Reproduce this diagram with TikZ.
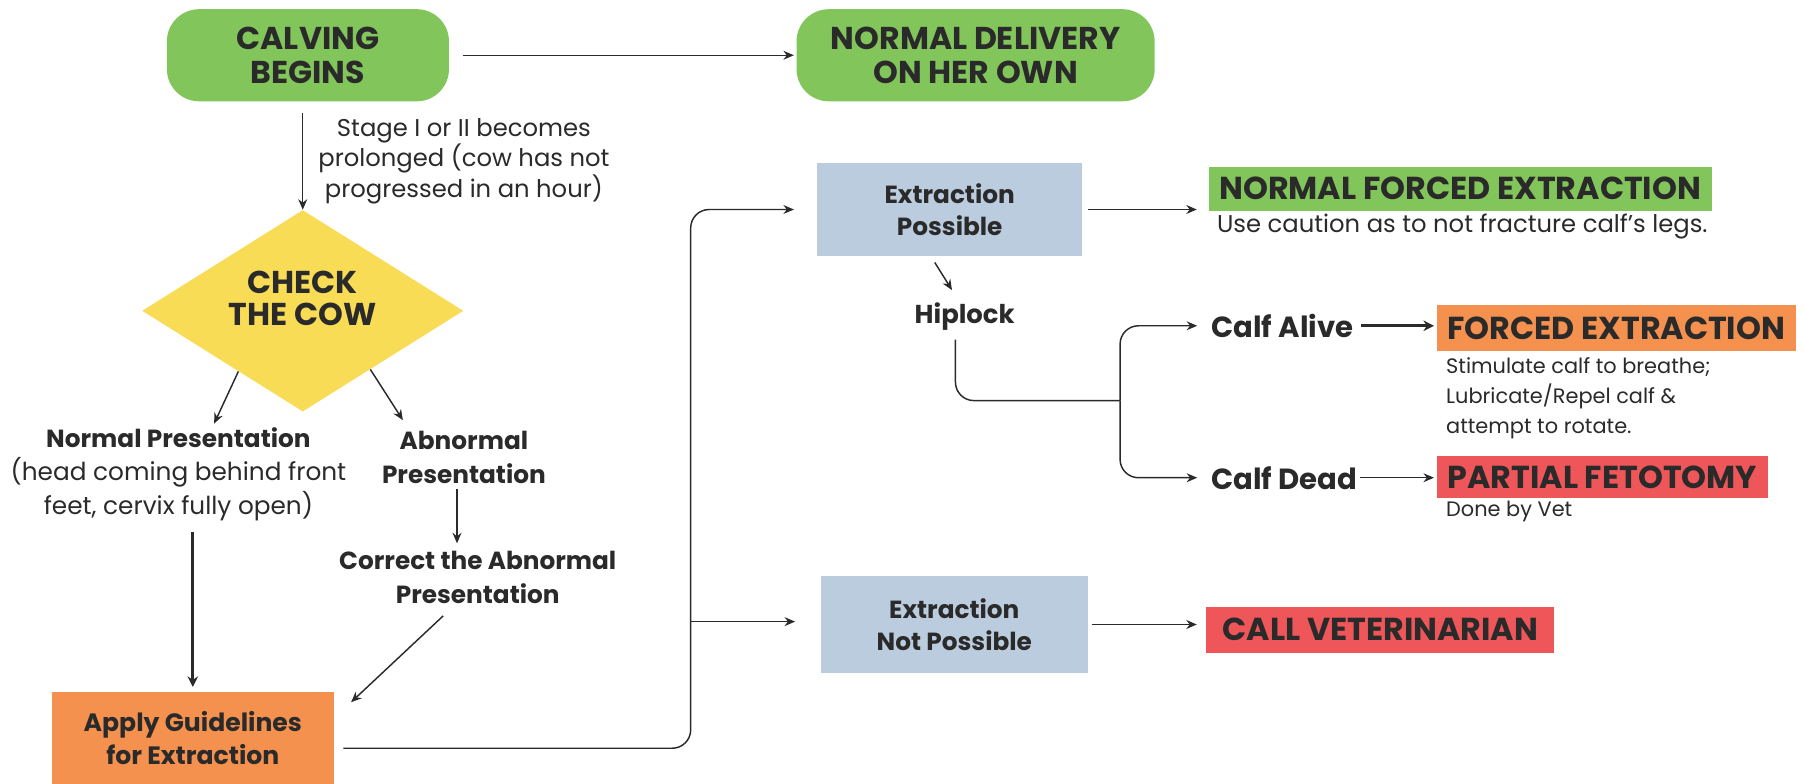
\documentclass[tikz,border=0pt]{standalone}
\usepackage{fontspec}
\setmainfont{Poppins}
\usetikzlibrary{shapes.geometric,arrows.meta,calc}
\definecolor{cgreen}{HTML}{82C55A}
\definecolor{corange}{HTML}{F4914F}
\definecolor{cred}{HTML}{EE5659}
\definecolor{cyellow}{HTML}{F9DC55}
\definecolor{cblue}{HTML}{BBCCDF}
\definecolor{ctext}{HTML}{2A2A2A}
\newcommand\fsz[2]{\fontsize{#1}{#2}\selectfont}
\begin{document}
\begin{tikzpicture}[x=0.025cm,y=-0.025cm,
  every node/.style={text=ctext},
  pill/.style={fill=cgreen, rounded corners=0.7cm, inner sep=0pt, align=center, font=\fsz{19.5}{21.3}\bfseries},
  head/.style={align=center, font=\fsz{19.5}{20}\bfseries},
  desc/.style={font=\fsz{15}{18}},
  lbl/.style={align=center, font=\fsz{15.3}{21}\bfseries},
  bluebox/.style={fill=cblue, inner sep=0pt, align=center, font=\fsz{15.3}{20}\bfseries},
  tagbox/.style={inner sep=0pt, font=\fsz{19.6}{20}\bfseries},
  calf/.style={inner sep=0pt, font=\fsz{18}{20}\bfseries},
  line/.style={draw=ctext, line width=0.9pt},
  arr/.style={line, -{Stealth[length=6.5pt,width=5.5pt]}},
  thickarr/.style={draw=ctext, line width=2pt, -{Stealth[length=6.5pt,width=6.5pt]}}]
\useasboundingbox (0,0) rectangle (1568,681);

% top row
\node[pill, minimum width=6.125cm, minimum height=2cm] (calv) at (267.5,48) {CALVING\\BEGINS};
\node[pill, minimum width=7.775cm, minimum height=2cm] (deliv) at (847.5,48) {NORMAL DELIVERY\\ON HER OWN};
\draw[arr, shorten <=0.3cm, shorten >=0.05cm] (calv.east) -- (deliv.west);

% check the cow
\node[diamond, fill=cyellow, minimum width=6.975cm, minimum height=4.375cm, inner sep=0pt] (check) at (263,270) {};
\node[head] (checkt) at (263,259) {CHECK\\THE COW};
\draw[arr, shorten <=0.25cm] (check.north |- calv.south) -- (check.north);
\node[desc, align=center] (stage) at (403,140) {Stage I or II becomes\\prolonged (cow has not\\progressed in an hour)};

% presentations
\node[align=center, font=\fsz{15.3}{20.6}] (normal) at (155,412) {{\bfseries Normal Presentation}\\(head coming behind front\\feet, cervix fully open)};
\node[lbl] (abnormal) at (403,397) {Abnormal\\Presentation};
\node[lbl] (correct) at (415,502) {Correct the Abnormal\\Presentation};
\coordinate (tipn) at (186,368);
\coordinate (tipa) at (350,365);
\draw[arr] ($(check.south)!0.4!(check.west)$) -- (tipn);
\draw[arr] ($(check.south)!0.42!(check.east)$) -- (tipa);
\draw[arr] (397,425) -- (397,472);

% apply
\node[fill=corange, minimum width=6.125cm, minimum height=2cm, inner sep=0pt, align=center, font=\fsz{15.5}{20}\bfseries] (apply) at (167.5,641) {Apply Guidelines\\for Extraction};
\coordinate (tipc) at (305,610);
\draw[arr] (385,535) -- (tipc);
\draw[thickarr, shorten >=0.1cm] (apply.north |- 0,462) -- (apply.north);

% extraction boxes
\node[bluebox, minimum width=5.75cm, minimum height=2cm] (ep) at (825,182) {Extraction\\Possible};
\node[bluebox, minimum width=5.8cm, minimum height=2.125cm] (enp) at (829,542.5) {Extraction\\Not Possible};
\coordinate (bus) at (600,540);
\draw[arr, rounded corners=0.4cm, shorten >=0.5cm] ($(apply.east)+(8,9)$) -| (bus) |- (ep.west);
\draw[arr, shorten >=0.55cm] (bus) -- (bus -| enp.west);

% outcomes
\node[tagbox, fill=cgreen, minimum width=10.925cm, minimum height=0.95cm] (nfe) at (1268.5,164) {NORMAL FORCED EXTRACTION};
\node[desc, anchor=west, inner sep=0pt] (nfesub) at (1057,197) {Use caution as to not fracture calf's legs.};
\draw[arr, shorten <=0.12cm, shorten >=0.25cm] (ep.east) -- (ep.east -| nfe.west);

\node[font=\fsz{16}{16}\bfseries] (hip) at (838,275) {Hiplock};
\draw[arr] (812,228) -- (827,252);
\coordinate (jn) at (973,348);
\draw[line, rounded corners=0.4cm] (830,295) |- (jn);

\node[calf, anchor=west] (alive) at (1052,283) {Calf Alive};
\node[calf, anchor=west] (dead) at (1052,415) {Calf Dead};
\draw[arr, rounded corners=0.4cm, shorten >=0.3cm] (jn) |- (alive.west);
\draw[arr, rounded corners=0.4cm, shorten >=0.3cm] (jn) |- (dead.west);

\node[tagbox, fill=corange, minimum width=7.8cm, minimum height=1cm] (forced) at (1404,285) {FORCED EXTRACTION};
\node[desc, anchor=north west, align=left, inner sep=0pt, font=\fsz{12.9}{18.5}] (forcedsub) at (1256,310) {Stimulate calf to breathe;\\Lubricate/Repel calf \&\\attempt to rotate.};
\draw[thickarr, shorten <=0.15cm, shorten >=0.05cm] (alive.east) -- (alive.east -| forced.west);

\node[tagbox, fill=cred, minimum width=7.2cm, minimum height=0.925cm] (partial) at (1392,414.5) {PARTIAL FETOTOMY};
\node[desc, anchor=west, inner sep=0pt, font=\fsz{12.9}{18}] (vet) at (1256,444) {Done by Vet};
\draw[arr, shorten <=0.05cm, shorten >=0.05cm] (dead.east) -- (dead.east -| partial.west);

\node[tagbox, fill=cred, minimum width=7.55cm, minimum height=1cm] (callvet) at (1199,547) {CALL VETERINARIAN};
\draw[arr, shorten <=0.08cm, shorten >=0.2cm] (enp.east) -- (enp.east -| callvet.west);
\end{tikzpicture}
\end{document}
